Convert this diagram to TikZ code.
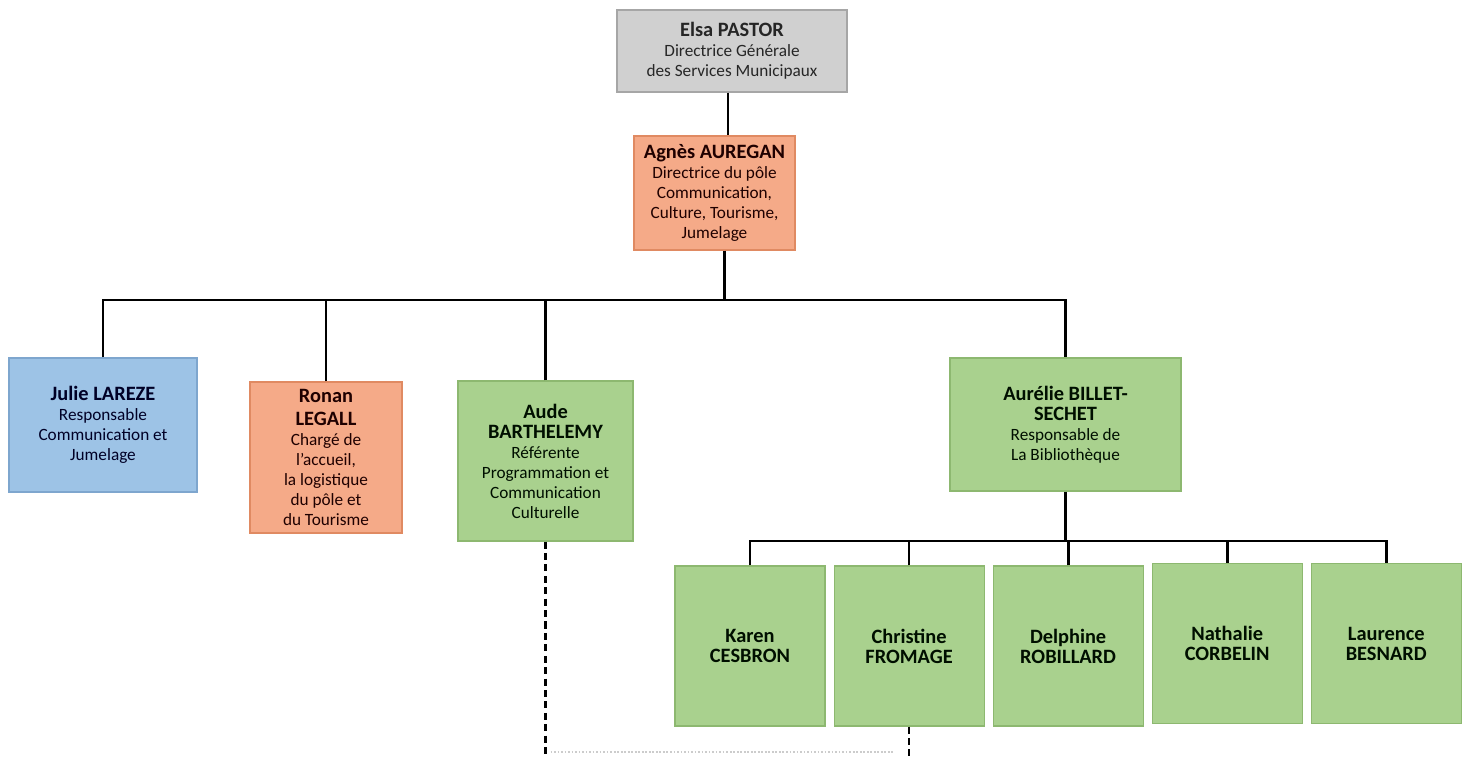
\documentclass[tikz,border=0pt]{standalone}
\usepackage{fontspec}
\setmainfont{Carlito}
\usepackage{xcolor}
\definecolor{ChiefGray}{HTML}{D0D0D0}
\definecolor{ChiefEdge}{HTML}{A6A6A6}
\definecolor{PoleOrange}{HTML}{F5AA88}
\definecolor{PoleEdge}{HTML}{E08A62}
\definecolor{ComBlue}{HTML}{9DC3E6}
\definecolor{ComEdge}{HTML}{7EA6CE}
\definecolor{LibGreen}{HTML}{A9D18E}
\definecolor{LibEdge}{HTML}{8DB870}
\usepackage{tikz}
\usetikzlibrary{positioning}

\newcommand{\who}[1]{{\fontsize{11.6}{13.6}\selectfont\bfseries #1}}

\begin{document}
\begin{tikzpicture}[
	box/.style={draw, line width=0.6pt, align=center, inner sep=2pt,
		font=\fontsize{9.8}{11.4}\selectfont},
	chief/.style={box, fill=ChiefGray, draw=ChiefEdge, text=black!85},
	pole/.style={box, fill=PoleOrange, draw=PoleEdge, text=black!80!red!60!black},
	com/.style={box, fill=ComBlue, draw=ComEdge, text=black!85!blue},
	lib/.style={box, fill=LibGreen, draw=LibEdge, text=black!85!green!40!black},
	agent/.style={lib, minimum width=3cm, minimum height=3.2cm},
	link/.style={line width=1.6pt, black},
	cutline/.style={line width=1.3pt, black, dashed, dash pattern=on 4pt off 2.5pt}
	]
			\useasboundingbox (0, 0) rectangle (29.26, -15.16);
			% direction
			\node[chief, minimum width=4.6cm, minimum height=1.64cm] (Elsa) at (14.64, -1.02) {\who{Elsa PASTOR}\\Directrice G\'en\'erale\\des Services Municipaux};
			\node[pole, minimum width=3.22cm, minimum height=2.28cm] (Agnes) at (14.29, -3.86) {\who{Agn\`es AUREGAN}\\Directrice du p\^ole\\Communication,\\Culture, Tourisme,\\Jumelage};
			% services
			\node[com, minimum width=3.76cm, minimum height=2.68cm] (Julie) at (2.06, -8.5) {\who{Julie LAREZE}\\Responsable\\Communication et\\Jumelage};
			\node[pole, minimum width=3.04cm, minimum height=3.02cm] (Ronan) at (6.52, -9.15) {\who{Ronan}\\[2pt]\who{LEGALL}\\Charg\'e de\\l'accueil,\\la logistique\\du p\^ole et\\du Tourisme};
			\node[lib, minimum width=3.5cm, minimum height=3.2cm] (Aude) at (10.91, -9.22) {\who{Aude}\\\who{BARTHELEMY}\\R\'ef\'erente\\Programmation et\\Communication\\Culturelle};
			\node[lib, minimum width=4.62cm, minimum height=2.66cm] (Aurelie) at (21.31, -8.49) {\who{Aur\'elie BILLET-}\\\who{SECHET}\\Responsable de\\La Biblioth\`eque};
			% bibliotheque
			\node[agent] (Karen) at (15.0, -12.92) {\who{Karen}\\\who{CESBRON}};
			\node[agent, right=0.16cm of Karen] (Christine) {\who{Christine}\\\who{FROMAGE}};
			\node[agent, right=0.16cm of Christine] (Delphine) {\who{Delphine}\\\who{ROBILLARD}};
			\node[agent, right=0.16cm of Delphine, yshift=0.05cm] (Nathalie) {\who{Nathalie}\\\who{CORBELIN}};
			\node[agent, right=0.16cm of Nathalie] (Laurence) {\who{Laurence}\\\who{BESNARD}};
			% links
			\coordinate (busA) at (0, -6.0);
			\coordinate (busB) at (0, -10.82);
			\coordinate (cut) at (0, -15.16);
			\draw[link] ([xshift=-0.08cm]Elsa.south) -- ([xshift=-0.08cm]Elsa.south |- Agnes.north);
			\draw[link] ([xshift=0.2cm]Agnes.south) -- ([xshift=0.2cm]Agnes.south |- busA);
			\draw[link] (Julie.north) |- (busA -| Aurelie) -- (Aurelie.north);
			\foreach \n in {Ronan, Aude}
				\draw[link] (\n.north) -- (\n.north |- busA);
			\draw[link] (Aurelie.south) -- (Aurelie.south |- busB);
			\draw[link] (Karen.north) |- (busB -| Laurence) -- (Laurence.north);
			\foreach \n in {Christine, Delphine, Nathalie}
				\draw[link] (\n.north) -- (\n.north |- busB);
			% cut off below
			\draw[cutline] (Aude.south) -- (Aude.south |- cut);
			\draw[cutline] (Christine.south) -- (Christine.south |- cut);
			\draw[black!20, line width=1pt, densely dotted] ([xshift=0.1cm]Aude.south |- 0, -15.04) -- ([xshift=-0.3cm]Christine.south |- 0, -15.04);
			\end{tikzpicture}
\end{document}
